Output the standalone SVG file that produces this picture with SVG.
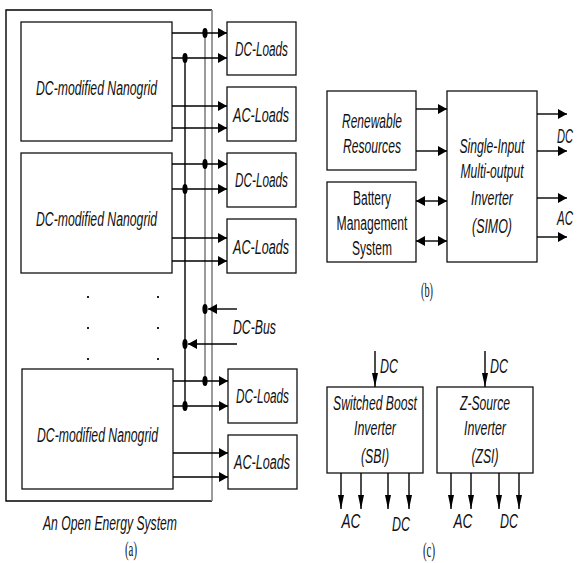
<svg xmlns="http://www.w3.org/2000/svg" width="577" height="563" viewBox="0 0 577 563">
<style>
.box{fill:#fff;stroke:#111;stroke-width:1.3}
.ln{stroke:#000;stroke-width:1.4;fill:none}
.bus{stroke:#8a8a8a;stroke-width:1.7;fill:none}
.t{font-family:"Liberation Sans",Arial,sans-serif;font-size:19.5px;font-style:italic;text-anchor:middle;fill:#111}
.n{font-style:normal}
.e{text-anchor:end}
.s{font-family:"Liberation Serif","Times New Roman",serif;font-size:20px;text-anchor:middle;fill:#111}
.dot{fill:#000}
</style>
<defs>
<marker id="ah" markerUnits="userSpaceOnUse" markerWidth="9" markerHeight="10" refX="9" refY="5" orient="auto"><path d="M0,0 L9,5 L0,10 z" fill="#000"/></marker>
<marker id="ahs" markerUnits="userSpaceOnUse" markerWidth="9" markerHeight="10" refX="0" refY="5" orient="auto"><path d="M9,0 L0,5 L9,10 z" fill="#000"/></marker>
<marker id="av" markerUnits="userSpaceOnUse" markerWidth="14" markerHeight="6" refX="14" refY="3" orient="auto"><path d="M0,0 L14,3 L0,6 z" fill="#000"/></marker>
</defs>

<!-- (a) -->
<g id="open-energy-system">
<path class="ln" d="M212,10 H6 V501 H212" stroke-width="1.3"/>
<text class="t" x="110" y="530" textLength="134" lengthAdjust="spacingAndGlyphs">An Open Energy System</text>
<text class="s" x="131" y="556" textLength="12" lengthAdjust="spacingAndGlyphs">(a)</text>
</g>

<g id="nanogrid1"><rect class="box" x="21" y="22" width="151" height="119"/>
<text class="t" x="96.5" y="95" textLength="121" lengthAdjust="spacingAndGlyphs">DC-modified Nanogrid</text></g>
<g id="nanogrid2"><rect class="box" x="21" y="153" width="151" height="120"/>
<text class="t" x="96.5" y="226" textLength="121" lengthAdjust="spacingAndGlyphs">DC-modified Nanogrid</text></g>
<g id="nanogrid3"><rect class="box" x="22" y="369" width="151" height="120"/>
<text class="t" x="97.5" y="442" textLength="121" lengthAdjust="spacingAndGlyphs">DC-modified Nanogrid</text></g>

<g id="dcloads1"><rect class="box" x="227" y="22" width="69" height="53"/>
<text class="t" x="261.5" y="56" textLength="53" lengthAdjust="spacingAndGlyphs">DC-Loads</text></g>
<g id="acloads1"><rect class="box" x="227" y="87" width="69" height="54"/>
<text class="t" x="261" y="122" textLength="56" lengthAdjust="spacingAndGlyphs">AC-Loads</text></g>
<g id="dcloads2"><rect class="box" x="227" y="153" width="69" height="54"/>
<text class="t" x="261.5" y="187" textLength="53" lengthAdjust="spacingAndGlyphs">DC-Loads</text></g>
<g id="acloads2"><rect class="box" x="227" y="219" width="69" height="54"/>
<text class="t" x="261" y="254" textLength="56" lengthAdjust="spacingAndGlyphs">AC-Loads</text></g>
<g id="dcloads3"><rect class="box" x="228" y="369" width="69" height="54"/>
<text class="t" x="262.5" y="403" textLength="53" lengthAdjust="spacingAndGlyphs">DC-Loads</text></g>
<g id="acloads3"><rect class="box" x="228" y="435" width="69" height="54"/>
<text class="t" x="262" y="469" textLength="56" lengthAdjust="spacingAndGlyphs">AC-Loads</text></g>

<g id="dc-bus">
<line class="bus" x1="212" y1="10" x2="212" y2="501"/>
<line class="bus" x1="205" y1="33" x2="205" y2="381"/>
<line class="ln" x1="185" y1="58" x2="185" y2="406"/>
<text class="t" x="254.5" y="334" textLength="43" lengthAdjust="spacingAndGlyphs">DC-Bus</text>
</g>

<g id="connectors-a">
<g class="ln" marker-end="url(#ah)">
<line x1="172" y1="33" x2="227" y2="33"/>
<line x1="172" y1="58" x2="227" y2="58"/>
<line x1="172" y1="106" x2="227" y2="106"/>
<line x1="172" y1="128" x2="227" y2="128"/>
<line x1="172" y1="164" x2="227" y2="164"/>
<line x1="172" y1="189" x2="227" y2="189"/>
<line x1="172" y1="238" x2="227" y2="238"/>
<line x1="172" y1="261" x2="227" y2="261"/>
<line x1="173" y1="381" x2="228" y2="381"/>
<line x1="173" y1="406" x2="228" y2="406"/>
<line x1="173" y1="453" x2="228" y2="453"/>
<line x1="173" y1="477" x2="228" y2="477"/>
<line x1="237" y1="309" x2="208" y2="309"/>
<line x1="237" y1="344" x2="188" y2="344"/>
</g>
<g class="dot">
<ellipse cx="205" cy="33" rx="2.6" ry="5"/>
<ellipse cx="185" cy="58" rx="2.6" ry="5"/>
<ellipse cx="205" cy="164" rx="2.6" ry="5"/>
<ellipse cx="185" cy="189" rx="2.6" ry="5"/>
<ellipse cx="205" cy="309" rx="2.6" ry="5"/>
<ellipse cx="185" cy="344" rx="2.6" ry="5"/>
<ellipse cx="205" cy="381" rx="2.6" ry="5"/>
<ellipse cx="185" cy="406" rx="2.6" ry="5"/>
</g>
<g fill="#222">
<rect x="87" y="296" width="2" height="2"/><rect x="157" y="296" width="2" height="2"/>
<rect x="87" y="327" width="2" height="2"/><rect x="157" y="327" width="2" height="2"/>
<rect x="87" y="358" width="2" height="2"/><rect x="157" y="358" width="2" height="2"/>
</g>
</g>

<!-- (b) -->
<g id="renewable"><rect class="box" x="327" y="91" width="89" height="79"/>
<text class="t" x="372" y="128" textLength="60" lengthAdjust="spacingAndGlyphs">Renewable</text>
<text class="t" x="372" y="153" textLength="58" lengthAdjust="spacingAndGlyphs">Resources</text></g>
<g id="battery"><rect class="box" x="327" y="182" width="89" height="80"/>
<text class="t n" x="372" y="205" textLength="38" lengthAdjust="spacingAndGlyphs">Battery</text>
<text class="t n" x="372" y="230" textLength="71" lengthAdjust="spacingAndGlyphs">Management</text>
<text class="t n" x="372" y="255" textLength="40" lengthAdjust="spacingAndGlyphs">System</text></g>
<g id="simo"><rect class="box" x="447" y="91" width="90" height="171"/>
<text class="t" x="492" y="153" textLength="65" lengthAdjust="spacingAndGlyphs">Single-Input</text>
<text class="t" x="492" y="178" textLength="63" lengthAdjust="spacingAndGlyphs">Multi-output</text>
<text class="t" x="492" y="205" textLength="42" lengthAdjust="spacingAndGlyphs">Inverter</text>
<text class="t" x="492" y="233" textLength="40" lengthAdjust="spacingAndGlyphs">(SIMO)</text></g>
<g id="connectors-b">
<g class="ln" marker-end="url(#ah)">
<line x1="416" y1="109" x2="447" y2="109"/>
<line x1="416" y1="151" x2="447" y2="151"/>
<line x1="416" y1="201" x2="447" y2="201" marker-start="url(#ahs)"/>
<line x1="416" y1="241" x2="447" y2="241" marker-start="url(#ahs)"/>
<line x1="537" y1="114" x2="567" y2="114"/>
<line x1="537" y1="151" x2="567" y2="151"/>
<line x1="537" y1="198" x2="567" y2="198"/>
<line x1="537" y1="237" x2="567" y2="237"/>
</g>
<text class="t e" x="573" y="143" textLength="16" lengthAdjust="spacingAndGlyphs">DC</text>
<text class="t e" x="573" y="225" textLength="16" lengthAdjust="spacingAndGlyphs">AC</text>
<text class="s" x="427" y="297" textLength="12" lengthAdjust="spacingAndGlyphs">(b)</text>
</g>

<!-- (c) -->
<g id="sbi"><rect class="box" x="327" y="387" width="96" height="86"/>
<text class="t" x="375" y="410" textLength="84" lengthAdjust="spacingAndGlyphs">Switched Boost</text>
<text class="t" x="375" y="435" textLength="42" lengthAdjust="spacingAndGlyphs">Inverter</text>
<text class="t" x="375" y="463" textLength="28" lengthAdjust="spacingAndGlyphs">(SBI)</text></g>
<g id="zsi"><rect class="box" x="437" y="387" width="96" height="86"/>
<text class="t" x="485" y="410" textLength="50" lengthAdjust="spacingAndGlyphs">Z-Source</text>
<text class="t" x="485" y="435" textLength="42" lengthAdjust="spacingAndGlyphs">Inverter</text>
<text class="t" x="485" y="463" textLength="27" lengthAdjust="spacingAndGlyphs">(ZSI)</text></g>
<g id="connectors-c">
<g class="ln" marker-end="url(#av)">
<line x1="375" y1="351" x2="375" y2="387"/>
<line x1="485" y1="351" x2="485" y2="387"/>
<line x1="341" y1="473" x2="341" y2="509"/>
<line x1="361" y1="473" x2="361" y2="509"/>
<line x1="388" y1="473" x2="388" y2="509"/>
<line x1="409" y1="473" x2="409" y2="509"/>
<line x1="451" y1="473" x2="451" y2="509"/>
<line x1="471" y1="473" x2="471" y2="509"/>
<line x1="499" y1="473" x2="499" y2="509"/>
<line x1="519" y1="473" x2="519" y2="509"/>
</g>
<text class="t" x="389" y="373" textLength="18" lengthAdjust="spacingAndGlyphs">DC</text>
<text class="t" x="499" y="373" textLength="18" lengthAdjust="spacingAndGlyphs">DC</text>
<text class="t" x="351" y="528" textLength="19" lengthAdjust="spacingAndGlyphs">AC</text>
<text class="t" x="401" y="531" textLength="18" lengthAdjust="spacingAndGlyphs">DC</text>
<text class="t" x="463" y="528" textLength="19" lengthAdjust="spacingAndGlyphs">AC</text>
<text class="t" x="509" y="528" textLength="18" lengthAdjust="spacingAndGlyphs">DC</text>
<text class="s" x="429" y="557" textLength="12" lengthAdjust="spacingAndGlyphs">(c)</text>
</g>
</svg>
